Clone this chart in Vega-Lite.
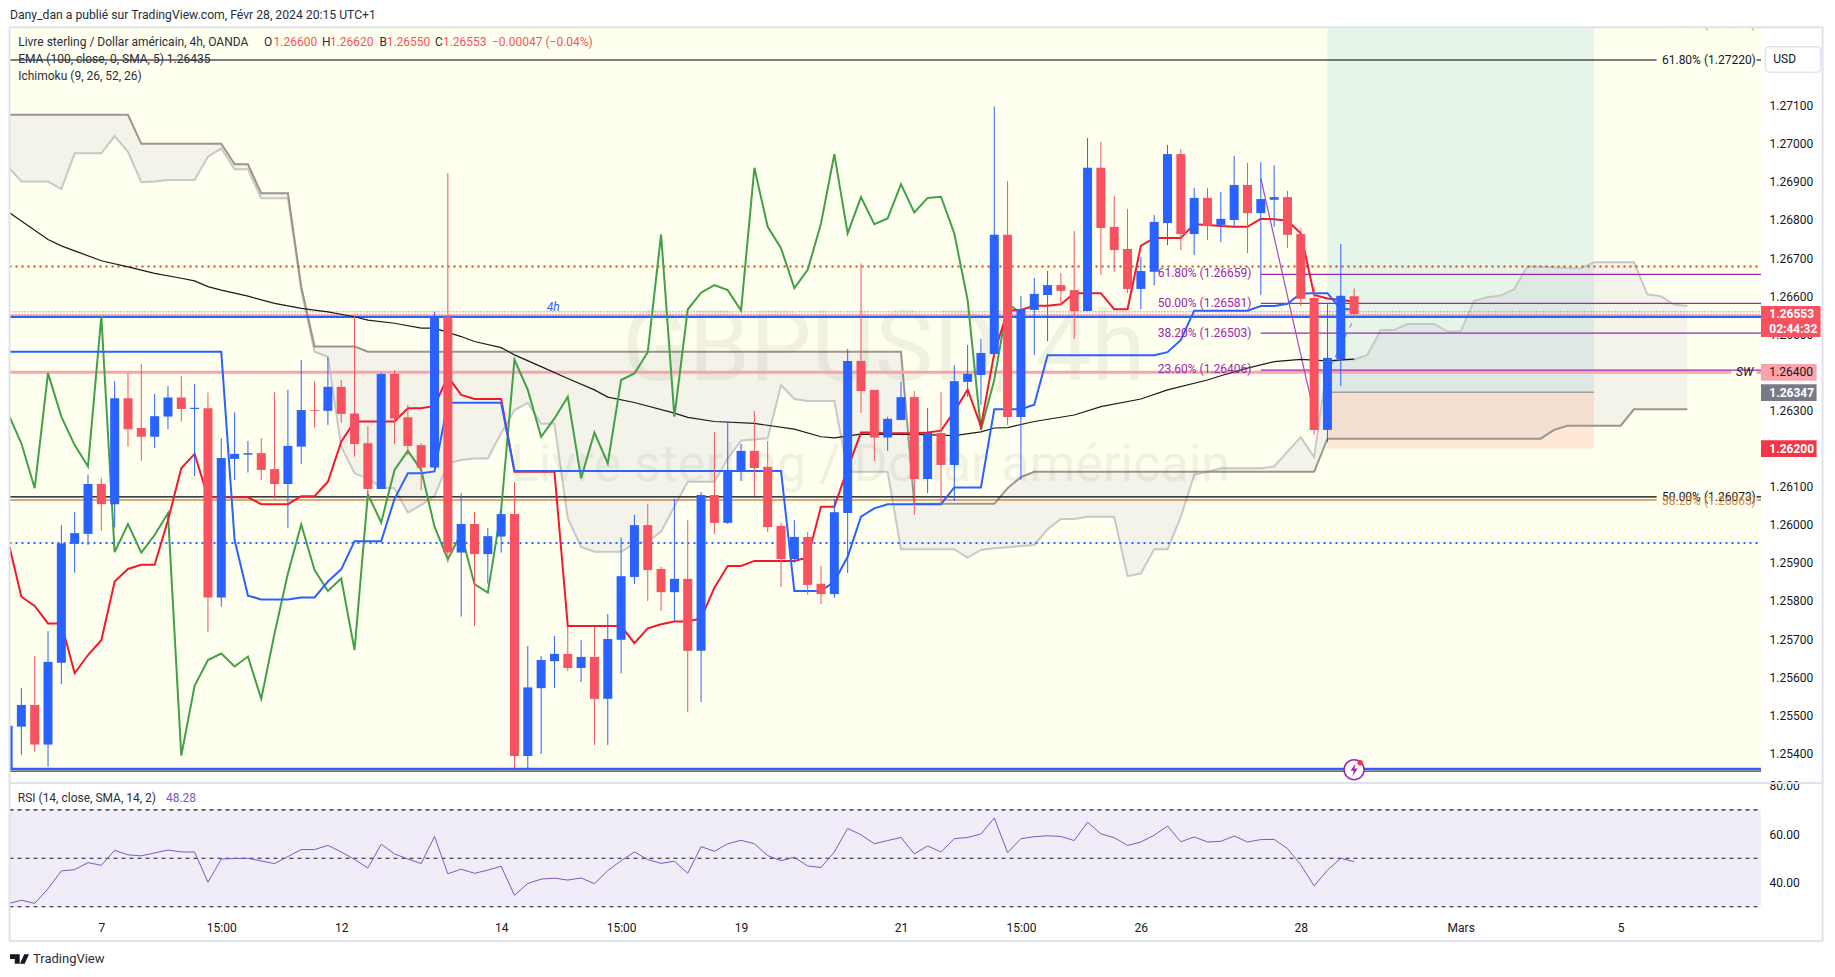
{
  "$schema": "https://vega.github.io/schema/vega-lite/v6.json",
  "width": 1835,
  "height": 977,
  "autosize": {"type": "none"},
  "padding": 0,
  "background": "#ffffff",
  "view": {"stroke": null},
  "config": {"text": {"font": "Roboto"}, "axis": {"labelFont": "Roboto"}},
  "datasets": {
    "candles": [
      {"bar":0,"open":1.2547,"high":1.25571,"low":1.25396,"close":1.25527},
      {"bar":1,"open":1.25527,"high":1.25656,"low":1.25404,"close":1.25423},
      {"bar":2,"open":1.25423,"high":1.25721,"low":1.25365,"close":1.2564},
      {"bar":3,"open":1.25638,"high":1.25999,"low":1.25582,"close":1.25951},
      {"bar":4,"open":1.2595,"high":1.26033,"low":1.25874,"close":1.25978},
      {"bar":5,"open":1.25976,"high":1.26131,"low":1.25947,"close":1.26107},
      {"bar":6,"open":1.26107,"high":1.26123,"low":1.25984,"close":1.26054},
      {"bar":7,"open":1.26054,"high":1.26377,"low":1.25993,"close":1.26332},
      {"bar":8,"open":1.26332,"high":1.26398,"low":1.26205,"close":1.26251},
      {"bar":9,"open":1.26254,"high":1.26422,"low":1.26168,"close":1.26231},
      {"bar":10,"open":1.26231,"high":1.26343,"low":1.26202,"close":1.26285},
      {"bar":11,"open":1.26284,"high":1.26364,"low":1.26251,"close":1.26334},
      {"bar":12,"open":1.26334,"high":1.2639,"low":1.26271,"close":1.26304},
      {"bar":13,"open":1.26304,"high":1.2637,"low":1.26128,"close":1.26307},
      {"bar":14,"open":1.26306,"high":1.26347,"low":1.25719,"close":1.25809},
      {"bar":15,"open":1.25809,"high":1.26227,"low":1.25785,"close":1.26175},
      {"bar":16,"open":1.26173,"high":1.26295,"low":1.26117,"close":1.26186},
      {"bar":17,"open":1.26184,"high":1.2622,"low":1.26137,"close":1.26188},
      {"bar":18,"open":1.26188,"high":1.26227,"low":1.26117,"close":1.26144},
      {"bar":19,"open":1.26146,"high":1.26348,"low":1.26067,"close":1.26107},
      {"bar":20,"open":1.26107,"high":1.26354,"low":1.25992,"close":1.26207},
      {"bar":21,"open":1.26205,"high":1.26433,"low":1.2616,"close":1.26301},
      {"bar":22,"open":1.26301,"high":1.26377,"low":1.26255,"close":1.26299},
      {"bar":23,"open":1.26299,"high":1.2644,"low":1.26262,"close":1.26362},
      {"bar":24,"open":1.26362,"high":1.2638,"low":1.26268,"close":1.26291},
      {"bar":25,"open":1.26292,"high":1.26548,"low":1.26179,"close":1.26212},
      {"bar":26,"open":1.26214,"high":1.26259,"low":1.26069,"close":1.26094},
      {"bar":27,"open":1.26094,"high":1.26399,"low":1.26094,"close":1.26396},
      {"bar":28,"open":1.26396,"high":1.26406,"low":1.26212,"close":1.26279},
      {"bar":29,"open":1.26282,"high":1.26314,"low":1.26183,"close":1.26207},
      {"bar":30,"open":1.26209,"high":1.26214,"low":1.26091,"close":1.2615},
      {"bar":31,"open":1.2615,"high":1.26559,"low":1.26148,"close":1.26546},
      {"bar":32,"open":1.26546,"high":1.26923,"low":1.259,"close":1.25927},
      {"bar":33,"open":1.25927,"high":1.26082,"low":1.25759,"close":1.26002},
      {"bar":34,"open":1.26002,"high":1.26033,"low":1.25734,"close":1.25923},
      {"bar":35,"open":1.25923,"high":1.25991,"low":1.25846,"close":1.2597},
      {"bar":36,"open":1.25969,"high":1.26039,"low":1.25927,"close":1.26028},
      {"bar":37,"open":1.26028,"high":1.26112,"low":1.25361,"close":1.25393},
      {"bar":38,"open":1.25393,"high":1.25682,"low":1.25361,"close":1.25573},
      {"bar":39,"open":1.25571,"high":1.25656,"low":1.25398,"close":1.25645},
      {"bar":40,"open":1.25642,"high":1.25708,"low":1.25571,"close":1.25661},
      {"bar":41,"open":1.25661,"high":1.25733,"low":1.25616,"close":1.25624},
      {"bar":42,"open":1.25624,"high":1.25697,"low":1.25587,"close":1.25653},
      {"bar":43,"open":1.25653,"high":1.25733,"low":1.25422,"close":1.25543},
      {"bar":44,"open":1.25543,"high":1.25766,"low":1.25422,"close":1.257},
      {"bar":45,"open":1.25698,"high":1.25967,"low":1.2561,"close":1.25865},
      {"bar":46,"open":1.25863,"high":1.26026,"low":1.25844,"close":1.25999},
      {"bar":47,"open":1.25999,"high":1.26054,"low":1.258,"close":1.25881},
      {"bar":48,"open":1.25884,"high":1.2589,"low":1.25774,"close":1.25823},
      {"bar":49,"open":1.25823,"high":1.26068,"low":1.25747,"close":1.25858},
      {"bar":50,"open":1.25858,"high":1.26012,"low":1.25508,"close":1.25669},
      {"bar":51,"open":1.25669,"high":1.26086,"low":1.25535,"close":1.26078},
      {"bar":52,"open":1.26078,"high":1.26243,"low":1.25976,"close":1.26005},
      {"bar":53,"open":1.26005,"high":1.26271,"low":1.26002,"close":1.26144},
      {"bar":54,"open":1.26139,"high":1.26212,"low":1.26115,"close":1.26194},
      {"bar":55,"open":1.26194,"high":1.26299,"low":1.26076,"close":1.26149},
      {"bar":56,"open":1.26152,"high":1.2622,"low":1.25981,"close":1.25994},
      {"bar":57,"open":1.25997,"high":1.26005,"low":1.25837,"close":1.2591},
      {"bar":58,"open":1.2591,"high":1.26012,"low":1.259,"close":1.25968},
      {"bar":59,"open":1.25968,"high":1.25981,"low":1.25816,"close":1.25842},
      {"bar":60,"open":1.25845,"high":1.25892,"low":1.25792,"close":1.25818},
      {"bar":61,"open":1.25818,"high":1.26068,"low":1.25808,"close":1.26033},
      {"bar":62,"open":1.26031,"high":1.26461,"low":1.25873,"close":1.2643},
      {"bar":63,"open":1.2643,"high":1.26686,"low":1.26294,"close":1.26351},
      {"bar":64,"open":1.26354,"high":1.26354,"low":1.26167,"close":1.26229},
      {"bar":65,"open":1.26229,"high":1.26283,"low":1.26194,"close":1.26278},
      {"bar":66,"open":1.26275,"high":1.26375,"low":1.26275,"close":1.26335},
      {"bar":67,"open":1.26335,"high":1.26351,"low":1.26026,"close":1.2612},
      {"bar":68,"open":1.2612,"high":1.26307,"low":1.26083,"close":1.26241},
      {"bar":69,"open":1.26241,"high":1.26348,"low":1.26054,"close":1.26157},
      {"bar":70,"open":1.26157,"high":1.26419,"low":1.26062,"close":1.26377},
      {"bar":71,"open":1.26375,"high":1.26472,"low":1.26336,"close":1.26396},
      {"bar":72,"open":1.26393,"high":1.26488,"low":1.26314,"close":1.26451},
      {"bar":73,"open":1.26448,"high":1.27098,"low":1.26448,"close":1.26761},
      {"bar":74,"open":1.26761,"high":1.26902,"low":1.26262,"close":1.26283},
      {"bar":75,"open":1.26283,"high":1.266,"low":1.26118,"close":1.26566},
      {"bar":76,"open":1.26564,"high":1.26648,"low":1.26446,"close":1.26606},
      {"bar":77,"open":1.26603,"high":1.26666,"low":1.26482,"close":1.26629},
      {"bar":78,"open":1.26629,"high":1.26661,"low":1.26577,"close":1.26614},
      {"bar":79,"open":1.26616,"high":1.26771,"low":1.26488,"close":1.26561},
      {"bar":80,"open":1.26561,"high":1.27015,"low":1.26561,"close":1.26937},
      {"bar":81,"open":1.26937,"high":1.27005,"low":1.26656,"close":1.26779},
      {"bar":82,"open":1.26782,"high":1.26863,"low":1.26664,"close":1.26721},
      {"bar":83,"open":1.26724,"high":1.26829,"low":1.26608,"close":1.26619},
      {"bar":84,"open":1.26619,"high":1.26703,"low":1.26566,"close":1.26666},
      {"bar":85,"open":1.26664,"high":1.26813,"low":1.26629,"close":1.26795},
      {"bar":86,"open":1.26792,"high":1.26997,"low":1.26734,"close":1.26973},
      {"bar":87,"open":1.26973,"high":1.26986,"low":1.26721,"close":1.26763},
      {"bar":88,"open":1.26763,"high":1.26884,"low":1.26708,"close":1.26858},
      {"bar":89,"open":1.26858,"high":1.26884,"low":1.26747,"close":1.26784},
      {"bar":90,"open":1.26787,"high":1.26874,"low":1.26742,"close":1.26803},
      {"bar":91,"open":1.268,"high":1.26968,"low":1.26779,"close":1.26892},
      {"bar":92,"open":1.26892,"high":1.2695,"low":1.26713,"close":1.26818},
      {"bar":93,"open":1.26818,"high":1.26952,"low":1.26603,"close":1.26855},
      {"bar":94,"open":1.26853,"high":1.26944,"low":1.26782,"close":1.2686},
      {"bar":95,"open":1.2686,"high":1.26876,"low":1.26727,"close":1.26761},
      {"bar":96,"open":1.26763,"high":1.26778,"low":1.26574,"close":1.26593},
      {"bar":97,"open":1.26595,"high":1.26624,"low":1.26236,"close":1.26249},
      {"bar":98,"open":1.26249,"high":1.26579,"low":1.26217,"close":1.26438},
      {"bar":99,"open":1.26435,"high":1.26737,"low":1.26364,"close":1.26601},
      {"bar":100,"open":1.266,"high":1.2662,"low":1.2655,"close":1.26553}
    ],
    "cloud": [
      {"bar":-0.89,"a":1.26936,"b":1.27076},{"bar":0,"a":1.26901,"b":1.27076},{"bar":2,"a":1.26901,"b":1.27076},{"bar":3,"a":1.26881,"b":1.27076},{"bar":4,"a":1.26975,"b":1.27076},{"bar":6,"a":1.26975,"b":1.27076},{"bar":7,"a":1.2702,"b":1.27076},{"bar":8,"a":1.26979,"b":1.27076},{"bar":9,"a":1.26899,"b":1.27},{"bar":10,"a":1.26901,"b":1.27},{"bar":11,"a":1.26905,"b":1.27},{"bar":13,"a":1.26905,"b":1.27},{"bar":14,"a":1.26966,"b":1.27},{"bar":15,"a":1.26988,"b":1.27},{"bar":16,"a":1.26933,"b":1.26946},{"bar":17,"a":1.26933,"b":1.26946},{"bar":18,"a":1.26857,"b":1.2687},{"bar":20,"a":1.26857,"b":1.2687},{"bar":21,"a":1.26616,"b":1.26625},{"bar":22,"a":1.26454,"b":1.26468},{"bar":23,"a":1.26441,"b":1.26468},{"bar":24,"a":1.26205,"b":1.26468},{"bar":25,"a":1.26135,"b":1.26468},{"bar":26,"a":1.26122,"b":1.26454},{"bar":27,"a":1.26098,"b":1.26454},{"bar":28,"a":1.26096,"b":1.26454},{"bar":29,"a":1.26032,"b":1.26454},{"bar":30,"a":1.26052,"b":1.26454},{"bar":31,"a":1.26075,"b":1.26454},{"bar":32,"a":1.26161,"b":1.26454},{"bar":33,"a":1.2617,"b":1.26454},{"bar":34,"a":1.26174,"b":1.26454},{"bar":35,"a":1.26174,"b":1.26454},{"bar":36,"a":1.2624,"b":1.26454},{"bar":37,"a":1.26301,"b":1.26454},{"bar":38,"a":1.2632,"b":1.26454},{"bar":39,"a":1.26265,"b":1.26454},{"bar":40,"a":1.26265,"b":1.26454},{"bar":41,"a":1.26017,"b":1.26454},{"bar":42,"a":1.25942,"b":1.26454},{"bar":43,"a":1.25929,"b":1.26454},{"bar":45,"a":1.25929,"b":1.26454},{"bar":46,"a":1.25951,"b":1.26454},{"bar":47,"a":1.25956,"b":1.26454},{"bar":48,"a":1.25982,"b":1.26454},{"bar":49,"a":1.26048,"b":1.26454},{"bar":50,"a":1.26113,"b":1.26454},{"bar":52,"a":1.26113,"b":1.26454},{"bar":53,"a":1.26174,"b":1.26454},{"bar":54,"a":1.26221,"b":1.26454},{"bar":55,"a":1.26224,"b":1.26454},{"bar":56,"a":1.26227,"b":1.26454},{"bar":57,"a":1.26367,"b":1.26454},{"bar":58,"a":1.2633,"b":1.26454},{"bar":59,"a":1.26325,"b":1.26454},{"bar":61,"a":1.26325,"b":1.26454},{"bar":62,"a":1.26139,"b":1.26454},{"bar":65,"a":1.26139,"b":1.26454},{"bar":66,"a":1.25936,"b":1.26454},{"bar":67,"a":1.25936,"b":1.26055},{"bar":70,"a":1.25936,"b":1.26055},{"bar":71,"a":1.25914,"b":1.26055},{"bar":72,"a":1.25934,"b":1.26055},{"bar":73,"a":1.25938,"b":1.26055},{"bar":74,"a":1.25941,"b":1.26096},{"bar":75,"a":1.25944,"b":1.26125},{"bar":76,"a":1.25947,"b":1.26139},{"bar":77,"a":1.25988,"b":1.26139},{"bar":78,"a":1.26015,"b":1.26139},{"bar":79,"a":1.26015,"b":1.26139},{"bar":80,"a":1.26021,"b":1.26139},{"bar":82,"a":1.26021,"b":1.26139},{"bar":83,"a":1.25865,"b":1.26139},{"bar":84,"a":1.25872,"b":1.26139},{"bar":85,"a":1.25936,"b":1.26139},{"bar":86,"a":1.25936,"b":1.26139},{"bar":87,"a":1.26021,"b":1.26139},{"bar":88,"a":1.26131,"b":1.26139},{"bar":89,"a":1.26139,"b":1.26139},{"bar":90,"a":1.26148,"b":1.26139},{"bar":93,"a":1.26148,"b":1.26139},{"bar":94,"a":1.26153,"b":1.26139},{"bar":95,"a":1.26192,"b":1.26139},{"bar":96,"a":1.2623,"b":1.26139},{"bar":97,"a":1.26177,"b":1.26139},{"bar":98,"a":1.26424,"b":1.26226},{"bar":99,"a":1.26434,"b":1.26226},{"bar":100,"a":1.26434,"b":1.26226},{"bar":101,"a":1.26446,"b":1.26226},{"bar":102,"a":1.26511,"b":1.26226},{"bar":103,"a":1.26511,"b":1.26226},{"bar":104,"a":1.26527,"b":1.26226},{"bar":106,"a":1.26527,"b":1.26226},{"bar":107,"a":1.26507,"b":1.26226},{"bar":108,"a":1.26507,"b":1.26226},{"bar":109,"a":1.26588,"b":1.26226},{"bar":110,"a":1.26597,"b":1.26226},{"bar":111,"a":1.26602,"b":1.26226},{"bar":112,"a":1.26618,"b":1.26226},{"bar":113,"a":1.26678,"b":1.26226},{"bar":114,"a":1.26677,"b":1.26226},{"bar":115,"a":1.26676,"b":1.26249},{"bar":116,"a":1.26674,"b":1.2626},{"bar":117,"a":1.26673,"b":1.2626},{"bar":118,"a":1.26689,"b":1.2626},{"bar":120,"a":1.26689,"b":1.2626},{"bar":121,"a":1.26689,"b":1.26303},{"bar":122,"a":1.26605,"b":1.26303},{"bar":123,"a":1.266,"b":1.26303},{"bar":124,"a":1.26578,"b":1.26303},{"bar":125,"a":1.26574,"b":1.26303}
    ],
    "ema": [
      {"bar":-0.89,"p":1.26819},{"bar":2,"p":1.26749},{"bar":3,"p":1.26732},{"bar":4,"p":1.26719},{"bar":6,"p":1.26693},{"bar":8,"p":1.26677},{"bar":10,"p":1.2666},{"bar":12,"p":1.26647},{"bar":13,"p":1.2664},{"bar":14,"p":1.26625},{"bar":15,"p":1.26616},{"bar":17,"p":1.266},{"bar":19,"p":1.26581},{"bar":21,"p":1.26568},{"bar":23,"p":1.26559},{"bar":25,"p":1.26546},{"bar":26,"p":1.26537},{"bar":28,"p":1.26529},{"bar":30,"p":1.26516},{"bar":31,"p":1.26516},{"bar":33,"p":1.26494},{"bar":34,"p":1.26481},{"bar":36,"p":1.26465},{"bar":37,"p":1.26446},{"bar":39,"p":1.26415},{"bar":41,"p":1.26384},{"bar":43,"p":1.26354},{"bar":44,"p":1.26335},{"bar":46,"p":1.26321},{"bar":49,"p":1.26293},{"bar":50,"p":1.26282},{"bar":52,"p":1.26271},{"bar":55,"p":1.26266},{"bar":58,"p":1.26251},{"bar":60,"p":1.26231},{"bar":61,"p":1.26228},{"bar":63,"p":1.26238},{"bar":67,"p":1.26237},{"bar":70,"p":1.26234},{"bar":72,"p":1.26244},{"bar":73,"p":1.26254},{"bar":74,"p":1.26255},{"bar":76,"p":1.26271},{"bar":79,"p":1.26288},{"bar":81,"p":1.2631},{"bar":84,"p":1.2633},{"bar":86,"p":1.26354},{"bar":89,"p":1.2638},{"bar":90,"p":1.26391},{"bar":92,"p":1.26411},{"bar":94,"p":1.26428},{"bar":96,"p":1.26434},{"bar":98,"p":1.2643},{"bar":100,"p":1.26435}
    ],
    "tenkan": [
      {"bar":-0.89,"p":1.25942},{"bar":0,"p":1.25811},{"bar":1,"p":1.25787},{"bar":2,"p":1.25741},{"bar":3,"p":1.25741},{"bar":4,"p":1.2561},{"bar":5,"p":1.25658},{"bar":6,"p":1.25697},{"bar":7,"p":1.25851},{"bar":8,"p":1.25884},{"bar":9,"p":1.25895},{"bar":10,"p":1.25895},{"bar":11,"p":1.26012},{"bar":12,"p":1.26148},{"bar":13,"p":1.26186},{"bar":14,"p":1.26072},{"bar":17,"p":1.26072},{"bar":18,"p":1.26054},{"bar":20,"p":1.26054},{"bar":21,"p":1.26075},{"bar":22,"p":1.26075},{"bar":23,"p":1.26113},{"bar":24,"p":1.26218},{"bar":25,"p":1.26271},{"bar":28,"p":1.26271},{"bar":29,"p":1.26306},{"bar":30,"p":1.26306},{"bar":31,"p":1.26312},{"bar":32,"p":1.26389},{"bar":33,"p":1.26341},{"bar":34,"p":1.2633},{"bar":36,"p":1.2633},{"bar":37,"p":1.26139},{"bar":40,"p":1.26139},{"bar":41,"p":1.25734},{"bar":45,"p":1.25734},{"bar":46,"p":1.25689},{"bar":47,"p":1.25728},{"bar":48,"p":1.25739},{"bar":49,"p":1.25746},{"bar":50,"p":1.25746},{"bar":51,"p":1.25754},{"bar":52,"p":1.25835},{"bar":53,"p":1.25892},{"bar":54,"p":1.25892},{"bar":55,"p":1.25905},{"bar":58,"p":1.25905},{"bar":59,"p":1.25914},{"bar":60,"p":1.26047},{"bar":61,"p":1.26047},{"bar":62,"p":1.26148},{"bar":63,"p":1.26242},{"bar":64,"p":1.26242},{"bar":65,"p":1.2624},{"bar":67,"p":1.2624},{"bar":68,"p":1.26242},{"bar":69,"p":1.26247},{"bar":70,"p":1.26297},{"bar":71,"p":1.26355},{"bar":72,"p":1.26258},{"bar":73,"p":1.2645},{"bar":74,"p":1.26562},{"bar":75,"p":1.26564},{"bar":76,"p":1.26575},{"bar":77,"p":1.26575},{"bar":78,"p":1.26579},{"bar":79,"p":1.26608},{"bar":81,"p":1.26608},{"bar":82,"p":1.26566},{"bar":83,"p":1.26566},{"bar":84,"p":1.26732},{"bar":85,"p":1.26753},{"bar":87,"p":1.26753},{"bar":88,"p":1.26789},{"bar":89,"p":1.26787},{"bar":90,"p":1.26784},{"bar":91,"p":1.26782},{"bar":92,"p":1.26782},{"bar":93,"p":1.26803},{"bar":94,"p":1.26802},{"bar":95,"p":1.26798},{"bar":96,"p":1.26765},{"bar":97,"p":1.26603},{"bar":98,"p":1.26594},{"bar":99,"p":1.2659},{"bar":100,"p":1.26586}
    ],
    "kijun": [
      {"bar":-0.89,"p":1.26454},{"bar":15,"p":1.26454},{"bar":16,"p":1.2596},{"bar":17,"p":1.25814},{"bar":18,"p":1.25804},{"bar":20,"p":1.25804},{"bar":21,"p":1.25809},{"bar":22,"p":1.25809},{"bar":23,"p":1.25851},{"bar":24,"p":1.25883},{"bar":25,"p":1.25957},{"bar":27,"p":1.25957},{"bar":28,"p":1.26068},{"bar":29,"p":1.26135},{"bar":30,"p":1.26135},{"bar":31,"p":1.2614},{"bar":32,"p":1.2632},{"bar":36,"p":1.2632},{"bar":37,"p":1.26141},{"bar":57,"p":1.26141},{"bar":58,"p":1.25826},{"bar":60,"p":1.25826},{"bar":61,"p":1.25851},{"bar":62,"p":1.25916},{"bar":63,"p":1.26021},{"bar":64,"p":1.26043},{"bar":65,"p":1.26054},{"bar":69,"p":1.26054},{"bar":70,"p":1.26098},{"bar":72,"p":1.26098},{"bar":73,"p":1.26303},{"bar":75,"p":1.26303},{"bar":76,"p":1.26315},{"bar":77,"p":1.26445},{"bar":85,"p":1.26445},{"bar":86,"p":1.26453},{"bar":87,"p":1.26485},{"bar":88,"p":1.26562},{"bar":92,"p":1.26562},{"bar":93,"p":1.26574},{"bar":94,"p":1.26574},{"bar":95,"p":1.2658},{"bar":96,"p":1.26607},{"bar":97,"p":1.26608},{"bar":98,"p":1.26608},{"bar":99,"p":1.26566},{"bar":100,"p":1.26566}
    ],
    "chikou": [
      {"bar":-0.89,"p":1.26284},{"bar":0,"p":1.26214},{"bar":1,"p":1.26096},{"bar":2,"p":1.26398},{"bar":3,"p":1.26284},{"bar":4,"p":1.26209},{"bar":5,"p":1.26153},{"bar":6,"p":1.26548},{"bar":7,"p":1.25928},{"bar":8,"p":1.26002},{"bar":9,"p":1.25927},{"bar":10,"p":1.25973},{"bar":11,"p":1.2603},{"bar":12,"p":1.25394},{"bar":13,"p":1.25577},{"bar":14,"p":1.25645},{"bar":15,"p":1.25662},{"bar":16,"p":1.25628},{"bar":17,"p":1.25654},{"bar":18,"p":1.25543},{"bar":19,"p":1.25715},{"bar":20,"p":1.25872},{"bar":21,"p":1.26001},{"bar":22,"p":1.25881},{"bar":23,"p":1.25826},{"bar":24,"p":1.25859},{"bar":25,"p":1.25671},{"bar":26,"p":1.2608},{"bar":27,"p":1.26006},{"bar":28,"p":1.26144},{"bar":29,"p":1.26194},{"bar":30,"p":1.26144},{"bar":31,"p":1.25995},{"bar":32,"p":1.25909},{"bar":33,"p":1.25977},{"bar":34,"p":1.25844},{"bar":35,"p":1.25822},{"bar":36,"p":1.26039},{"bar":37,"p":1.26433},{"bar":38,"p":1.26354},{"bar":39,"p":1.26231},{"bar":40,"p":1.26279},{"bar":41,"p":1.26336},{"bar":42,"p":1.26122},{"bar":43,"p":1.26242},{"bar":44,"p":1.26161},{"bar":45,"p":1.2638},{"bar":46,"p":1.26397},{"bar":47,"p":1.26453},{"bar":48,"p":1.26762},{"bar":49,"p":1.26284},{"bar":50,"p":1.26565},{"bar":51,"p":1.26609},{"bar":52,"p":1.26629},{"bar":53,"p":1.26616},{"bar":54,"p":1.26562},{"bar":55,"p":1.26937},{"bar":56,"p":1.26782},{"bar":57,"p":1.26726},{"bar":58,"p":1.26621},{"bar":59,"p":1.26669},{"bar":60,"p":1.26791},{"bar":61,"p":1.26973},{"bar":62,"p":1.26765},{"bar":63,"p":1.2686},{"bar":64,"p":1.26789},{"bar":65,"p":1.26804},{"bar":66,"p":1.26894},{"bar":67,"p":1.2682},{"bar":68,"p":1.26858},{"bar":69,"p":1.26861},{"bar":70,"p":1.26765},{"bar":71,"p":1.2659},{"bar":72,"p":1.26249},{"bar":73,"p":1.2638},{"bar":74,"p":1.26581},{"bar":75,"p":1.26555}
    ],
    "rsi": [
      {"bar":-0.89,"v":31.4},{"bar":0,"v":32.7},{"bar":1,"v":31.4},{"bar":2,"v":37.4},{"bar":3,"v":44.8},{"bar":4,"v":45.3},{"bar":5,"v":48.2},{"bar":6,"v":47.1},{"bar":7,"v":53.3},{"bar":8,"v":51.4},{"bar":9,"v":51},{"bar":10,"v":52.2},{"bar":11,"v":53.4},{"bar":12,"v":52.6},{"bar":13,"v":52.6},{"bar":14,"v":40.1},{"bar":15,"v":49.7},{"bar":16,"v":49.9},{"bar":17,"v":50},{"bar":18,"v":48.9},{"bar":19,"v":47.8},{"bar":20,"v":50.7},{"bar":21,"v":53.6},{"bar":22,"v":53.6},{"bar":23,"v":55.3},{"bar":24,"v":52.6},{"bar":25,"v":49.5},{"bar":26,"v":46},{"bar":27,"v":55.8},{"bar":28,"v":51.8},{"bar":29,"v":49.7},{"bar":30,"v":47.8},{"bar":31,"v":59},{"bar":32,"v":43.6},{"bar":33,"v":45.5},{"bar":34,"v":43.8},{"bar":35,"v":45.1},{"bar":36,"v":46.7},{"bar":37,"v":34.7},{"bar":38,"v":39.6},{"bar":39,"v":41.4},{"bar":40,"v":41.8},{"bar":41,"v":41},{"bar":42,"v":41.9},{"bar":43,"v":39.5},{"bar":44,"v":44.9},{"bar":45,"v":49},{"bar":46,"v":52.6},{"bar":47,"v":49.5},{"bar":48,"v":47.9},{"bar":49,"v":48.8},{"bar":50,"v":43.8},{"bar":51,"v":54.8},{"bar":52,"v":52.9},{"bar":53,"v":56},{"bar":54,"v":57.4},{"bar":55,"v":56},{"bar":56,"v":51.1},{"bar":57,"v":49},{"bar":58,"v":50.4},{"bar":59,"v":46.8},{"bar":60,"v":46.2},{"bar":61,"v":52.6},{"bar":62,"v":62.3},{"bar":63,"v":59.7},{"bar":64,"v":56},{"bar":65,"v":57.3},{"bar":66,"v":58.6},{"bar":67,"v":51.8},{"bar":68,"v":55.1},{"bar":69,"v":52.6},{"bar":70,"v":58.1},{"bar":71,"v":58.6},{"bar":72,"v":60},{"bar":73,"v":66.6},{"bar":74,"v":52.3},{"bar":75,"v":58.1},{"bar":76,"v":58.9},{"bar":77,"v":59.3},{"bar":78,"v":59},{"bar":79,"v":57.3},{"bar":80,"v":64.9},{"bar":81,"v":60.1},{"bar":82,"v":58.5},{"bar":83,"v":55.3},{"bar":84,"v":56.7},{"bar":85,"v":59.5},{"bar":86,"v":63.3},{"bar":87,"v":56.8},{"bar":88,"v":58.8},{"bar":89,"v":56.7},{"bar":90,"v":57},{"bar":91,"v":59.2},{"bar":92,"v":56.7},{"bar":93,"v":57.7},{"bar":94,"v":57.8},{"bar":95,"v":54},{"bar":96,"v":47.3},{"bar":97,"v":38.6},{"bar":98,"v":45.1},{"bar":99,"v":50},{"bar":100,"v":48.6}
    ]
  },
  "encoding": {
    "x": {
      "field": "bar",
      "type": "quantitative",
      "scale": {"domain": [-0.89, 130.53], "range": [9.5, 1761], "zero": false, "nice": false, "padding": 0},
      "axis": {
        "title": null,
        "orient": "bottom",
        "offset": -62,
        "domain": false,
        "ticks": false,
        "grid": false,
        "values": [6, 15, 24, 36, 45, 54, 66, 75, 84, 96, 108, 120],
        "labelExpr": "{'6':'7','15':'15:00','24':'12','36':'14','45':'15:00','54':'19','66':'21','75':'15:00','84':'26','96':'28','108':'Mars','120':'5'}[datum.value]",
        "labelFontSize": 12,
        "labelColor": "#131722",
        "labelPadding": 7,
        "labelOverlap": false,
        "labelFlush": false
      }
    }
  },
  "resolve": {"scale": {"y": "independent"}, "axis": {"y": "independent"}},
  "layer": [
    {
      "encoding": {
        "y": {
          "field": "p",
          "type": "quantitative",
          "scale": {"domain": [1.253247, 1.273066], "range": [782, 27], "zero": false, "nice": false},
          "axis": {
            "title": null,
            "orient": "right",
            "offset": -74,
            "domain": false,
            "ticks": false,
            "grid": false,
            "values": [1.254, 1.255, 1.256, 1.257, 1.258, 1.259, 1.26, 1.261, 1.262, 1.263, 1.264, 1.265, 1.266, 1.267, 1.268, 1.269, 1.27, 1.271, 1.272],
            "format": ".5f",
            "labelFontSize": 12,
            "labelColor": "#131722",
            "labelPadding": 8,
            "labelOverlap": false,
            "labelFlush": false
          }
        }
      },
      "layer": [
        {
          "data": {"values": [{"bar": -0.89, "bar2": 130.53, "p": 1.25353, "p2": 1.273066}]},
          "mark": {"type": "rect", "color": "#fffff0"},
          "encoding": {"x2": {"field": "bar2"}, "y2": {"field": "p2"}}
        },
        {
          "data": {"values": [{"bar": 98, "bar2": 118, "p": 1.26348, "p2": 1.273066}]},
          "mark": {"type": "rect", "color": "#089fa8", "opacity": 0.1},
          "encoding": {"x2": {"field": "bar2"}, "y2": {"field": "p2"}}
        },
        {
          "data": {"values": [{"bar": 98, "bar2": 118, "p": 1.262, "p2": 1.26348}]},
          "mark": {"type": "rect", "color": "#ff5722", "opacity": 0.13},
          "encoding": {"x2": {"field": "bar2"}, "y2": {"field": "p2"}}
        },
        {
          "data": {"name": "cloud"},
          "mark": {"type": "area", "color": "#7d70a0", "opacity": 0.085},
          "encoding": {
            "y": {"field": "a", "type": "quantitative", "scale": {"domain": [1.253247, 1.273066], "range": [782, 27], "zero": false, "nice": false}},
            "y2": {"field": "b"}
          }
        },
        {
          "data": {"name": "cloud"},
          "mark": {"type": "line", "color": "#c8c8c8", "strokeWidth": 2},
          "encoding": {
            "y": {"field": "a", "type": "quantitative", "scale": {"domain": [1.253247, 1.273066], "range": [782, 27], "zero": false, "nice": false}}
          }
        },
        {
          "data": {"name": "cloud"},
          "mark": {"type": "line", "color": "#9a968e", "strokeWidth": 2},
          "encoding": {
            "y": {"field": "b", "type": "quantitative", "scale": {"domain": [1.253247, 1.273066], "range": [782, 27], "zero": false, "nice": false}}
          }
        },
        {
          "data": {"values": [{"bar": 64.7, "p": 1.26456, "label": "GBPUSD, 4h"}]},
          "mark": {"type": "text", "fontSize": 98, "color": "#6b6b50", "opacity": 0.09, "baseline": "middle"},
          "encoding": {"text": {"field": "label"}}
        },
        {
          "data": {"values": [{"bar": 63.7, "p": 1.26156, "label": "Livre sterling / Dollar américain"}]},
          "mark": {"type": "text", "fontSize": 52, "color": "#6b6b50", "opacity": 0.09, "baseline": "middle"},
          "encoding": {"text": {"field": "label"}}
        },
        {
          "data": {"values": [{"bar": -0.89, "bar2": 130.53, "p": 1.2722}]},
          "mark": {"type": "rule", "color": "#000000", "strokeWidth": 1.2},
          "encoding": {"x2": {"field": "bar2"}}
        },
        {
          "data": {"values": [{"bar": -0.89, "bar2": 130.53, "p": 1.26073}]},
          "mark": {"type": "rule", "color": "#000000", "strokeWidth": 1.2},
          "encoding": {"x2": {"field": "bar2"}}
        },
        {
          "data": {"values": [{"bar": -0.89, "bar2": 130.53, "p": 1.26065}]},
          "mark": {"type": "rule", "color": "#b45309", "strokeWidth": 1.2},
          "encoding": {"x2": {"field": "bar2"}}
        },
        {
          "data": {"values": [{"bar": -0.89, "bar2": 130.53, "p": 1.26678}]},
          "mark": {"type": "rule", "color": "#b45309", "strokeWidth": 2, "strokeDash": [2, 4]},
          "encoding": {"x2": {"field": "bar2"}}
        },
        {
          "data": {"values": [{"bar": -0.89, "bar2": 130.53, "p": 1.25952}]},
          "mark": {"type": "rule", "color": "#2962ff", "strokeWidth": 2, "strokeDash": [2, 4]},
          "encoding": {"x2": {"field": "bar2"}}
        },
        {
          "data": {"values": [{"bar": -0.89, "bar2": 130.53, "p": 1.26559}, {"bar": -0.89, "bar2": 130.53, "p": 1.26552}]},
          "mark": {"type": "rule", "color": "#f23645", "strokeWidth": 1, "strokeDash": [1, 2]},
          "encoding": {"x2": {"field": "bar2"}}
        },
        {
          "data": {"values": [{"bar": -0.89, "bar2": 130.53, "p": 1.26546}]},
          "mark": {"type": "rule", "color": "#2962ff", "strokeWidth": 2.5},
          "encoding": {"x2": {"field": "bar2"}}
        },
        {
          "data": {"values": [{"bar": -0.89, "bar2": 128.3, "p": 1.264}, {"bar": 130.2, "bar2": 130.53, "p": 1.264}]},
          "mark": {"type": "rule", "color": "#f9a3ab", "strokeWidth": 3},
          "encoding": {"x2": {"field": "bar2"}}
        },
        {
          "data": {"values": [{"bar": 98, "bar2": 118, "p": 1.26348}]},
          "mark": {"type": "rule", "color": "#787b86", "strokeWidth": 1},
          "encoding": {"x2": {"field": "bar2"}}
        },
        {
          "data": {"values": [{"bar": -0.89, "bar2": 130.53, "p": 1.25353}]},
          "mark": {"type": "rule", "color": "#b45309", "strokeWidth": 1.5},
          "encoding": {"x2": {"field": "bar2"}}
        },
        {
          "data": {"values": [{"bar": -0.89, "bar2": 130.53, "p": 1.25359}]},
          "mark": {"type": "rule", "color": "#2962ff", "strokeWidth": 2.5},
          "encoding": {"x2": {"field": "bar2"}}
        },
        {
          "data": {"values": [{"bar": -0.75, "p": 1.25472, "p2": 1.25359}]},
          "mark": {"type": "rule", "color": "#2962ff", "strokeWidth": 2.5},
          "encoding": {"y2": {"field": "p2"}}
        },
        {
          "data": {"values": [{"bar": 93, "bar2": 130.53, "p": 1.26657}, {"bar": 93, "bar2": 130.53, "p": 1.26581}, {"bar": 93, "bar2": 130.53, "p": 1.26503}, {"bar": 93, "bar2": 130.53, "p": 1.26406}]},
          "mark": {"type": "rule", "color": "#9c27b0", "strokeWidth": 1.2},
          "encoding": {"x2": {"field": "bar2"}}
        },
        {
          "data": {"values": [{"bar": 93, "p": 1.26909}, {"bar": 97, "p": 1.26292}]},
          "mark": {"type": "line", "color": "#ab47bc", "strokeWidth": 1.2},
          "encoding": {}
        },
        {
          "data": {"values": [{"bar": 98.2, "p": 1.26414}, {"bar": 100.1, "p": 1.26548}]},
          "mark": {"type": "line", "color": "#787b86", "strokeWidth": 1, "strokeDash": [5, 6]},
          "encoding": {}
        },
        {
          "data": {"name": "ema"},
          "mark": {"type": "line", "color": "#1a1a1a", "strokeWidth": 1.2},
          "encoding": {}
        },
        {
          "data": {"name": "chikou"},
          "mark": {"type": "line", "color": "#43a047", "strokeWidth": 2},
          "encoding": {}
        },
        {
          "data": {"name": "tenkan"},
          "mark": {"type": "line", "color": "#f2192b", "strokeWidth": 2},
          "encoding": {}
        },
        {
          "data": {"name": "kijun"},
          "mark": {"type": "line", "color": "#2962ff", "strokeWidth": 2},
          "encoding": {}
        },
        {
          "data": {"name": "candles"},
          "mark": {"type": "rule", "strokeWidth": 1},
          "encoding": {
            "y": {"field": "low", "type": "quantitative", "scale": {"domain": [1.253247, 1.273066], "range": [782, 27], "zero": false, "nice": false}},
            "y2": {"field": "high"},
            "color": {"condition": {"test": "datum.close >= datum.open", "value": "#2962ff"}, "value": "#f7525f"}
          }
        },
        {
          "data": {"name": "candles"},
          "mark": {"type": "bar", "width": 9},
          "encoding": {
            "y": {"field": "open", "type": "quantitative", "scale": {"domain": [1.253247, 1.273066], "range": [782, 27], "zero": false, "nice": false}},
            "y2": {"field": "close"},
            "color": {"condition": {"test": "datum.close >= datum.open", "value": "#2962ff"}, "value": "#f7525f"}
          }
        },
        {
          "data": {"values": [
            {"bar": -0.24, "p": 1.27268, "label": "Livre sterling / Dollar américain, 4h, OANDA"},
            {"bar": 18.2, "p": 1.27268, "label": "O"},
            {"bar": 22.55, "p": 1.27268, "label": "H"},
            {"bar": 26.88, "p": 1.27268, "label": "B"},
            {"bar": 31.03, "p": 1.27268, "label": "C"},
            {"bar": -0.24, "p": 1.272234, "label": "EMA (100, close, 0, SMA, 5)  1.26435"},
            {"bar": -0.24, "p": 1.27178, "label": "Ichimoku (9, 26, 52, 26)"}
          ]},
          "mark": {"type": "text", "align": "left", "baseline": "middle", "fontSize": 12, "color": "#2a2e39"},
          "encoding": {"text": {"field": "label"}}
        },
        {
          "data": {"values": [
            {"bar": 18.92, "p": 1.27268, "label": "1.26600"},
            {"bar": 23.15, "p": 1.27268, "label": "1.26620"},
            {"bar": 27.41, "p": 1.27268, "label": "1.26550"},
            {"bar": 31.63, "p": 1.27268, "label": "1.26553"},
            {"bar": 35.31, "p": 1.27268, "label": "−0.00047 (−0.04%)"}
          ]},
          "mark": {"type": "text", "align": "left", "baseline": "middle", "fontSize": 12, "color": "#f7525f"},
          "encoding": {"text": {"field": "label"}}
        },
        {
          "data": {"values": [{"bar": 39.9, "p": 1.26572, "label": "4h"}]},
          "mark": {"type": "text", "align": "center", "baseline": "middle", "fontSize": 12, "fontStyle": "italic", "color": "#2962ff"},
          "encoding": {"text": {"field": "label"}}
        },
        {
          "data": {"values": [{"bar": 129.3, "p": 1.264, "label": "SW"}]},
          "mark": {"type": "text", "align": "center", "baseline": "middle", "fontSize": 12, "fontStyle": "italic", "color": "#131722"},
          "encoding": {"text": {"field": "label"}}
        },
        {
          "data": {"values": [
            {"bar": 92.3, "p": 1.2666, "label": "61.80% (1.26659)"},
            {"bar": 92.3, "p": 1.26581, "label": "50.00% (1.26581)"},
            {"bar": 92.3, "p": 1.26503, "label": "38.20% (1.26503)"},
            {"bar": 92.3, "p": 1.26408, "label": "23.60% (1.26406)"}
          ]},
          "mark": {"type": "text", "align": "right", "baseline": "middle", "fontSize": 12, "color": "#9c27b0"},
          "encoding": {"text": {"field": "label"}}
        },
        {
          "data": {"values": [{"bar": 122.7, "bar2": 130.2, "p": 1.27205, "p2": 1.27235}, {"bar": 122.7, "bar2": 130.2, "p": 1.26055, "p2": 1.26085}]},
          "mark": {"type": "rect", "color": "#fffff0"},
          "encoding": {"x2": {"field": "bar2"}, "y2": {"field": "p2"}}
        },
        {
          "data": {"values": [{"bar": 123.1, "p": 1.2722, "label": "61.80% (1.27220)"}, {"bar": 123.1, "p": 1.26073, "label": "50.00% (1.26073)"}]},
          "mark": {"type": "text", "align": "left", "baseline": "middle", "fontSize": 12, "color": "#131722"},
          "encoding": {"text": {"field": "label"}}
        },
        {
          "data": {"values": [{"bar": 123.1, "p": 1.26063, "label": "38.20% (1.26065)"}, {"bar": 123.1, "p": 1.27314, "label": "61.80% (1.27424)"}]},
          "mark": {"type": "text", "align": "left", "baseline": "middle", "fontSize": 12, "color": "#d08a4e"},
          "encoding": {"text": {"field": "label"}}
        },
        {
          "data": {"values": [{"bar": 122.7, "bar2": 130.53, "p": 1.273085, "p2": 1.2736}]},
          "mark": {"type": "rect", "color": "#ffffff"},
          "encoding": {"x2": {"field": "bar2"}, "y2": {"field": "p2"}}
        },
        {
          "data": {"values": [{"bar": -0.86, "p": 1.27338, "label": "Dany_dan a publié sur TradingView.com, Févr 28, 2024 20:15 UTC+1"}]},
          "mark": {"type": "text", "align": "left", "baseline": "middle", "fontSize": 12.2, "color": "#2a2e39"},
          "encoding": {"text": {"field": "label"}}
        },
        {
          "data": {"values": [{"bar": 130.85, "bar2": 135, "p": 1.27188, "p2": 1.27255}]},
          "mark": {"type": "rect", "fill": "#ffffff", "stroke": "#e0e3eb", "strokeWidth": 1.5, "cornerRadius": 4},
          "encoding": {"x2": {"field": "bar2"}, "y2": {"field": "p2"}}
        },
        {
          "data": {"values": [{"bar": 131.45, "p": 1.27222, "label": "USD"}]},
          "mark": {"type": "text", "align": "left", "baseline": "middle", "fontSize": 12, "color": "#131722"},
          "encoding": {"text": {"field": "label"}}
        },
        {
          "data": {"values": [{"bar": 130.53, "bar2": 135, "p": 1.26493, "p2": 1.26574}]},
          "mark": {"type": "rect", "color": "#f7525f"},
          "encoding": {"x2": {"field": "bar2"}, "y2": {"field": "p2"}}
        },
        {
          "data": {"values": [{"bar": 130.53, "bar2": 134.7, "p": 1.26378, "p2": 1.26422}]},
          "mark": {"type": "rect", "color": "#f9a3ab"},
          "encoding": {"x2": {"field": "bar2"}, "y2": {"field": "p2"}}
        },
        {
          "data": {"values": [{"bar": 130.53, "bar2": 134.7, "p": 1.26325, "p2": 1.26369}]},
          "mark": {"type": "rect", "color": "#787b86"},
          "encoding": {"x2": {"field": "bar2"}, "y2": {"field": "p2"}}
        },
        {
          "data": {"values": [{"bar": 130.53, "bar2": 134.7, "p": 1.26178, "p2": 1.26222}]},
          "mark": {"type": "rect", "color": "#f23645"},
          "encoding": {"x2": {"field": "bar2"}, "y2": {"field": "p2"}}
        },
        {
          "data": {"values": [
            {"bar": 131.15, "p": 1.26552, "label": "1.26553"},
            {"bar": 131.15, "p": 1.26515, "label": "02:44:32"},
            {"bar": 131.15, "p": 1.26347, "label": "1.26347"},
            {"bar": 131.15, "p": 1.262, "label": "1.26200"}
          ]},
          "mark": {"type": "text", "align": "left", "baseline": "middle", "fontSize": 12, "fontWeight": "bold", "color": "#ffffff"},
          "encoding": {"text": {"field": "label"}}
        },
        {
          "data": {"values": [{"bar": 131.15, "p": 1.264, "label": "1.26400"}]},
          "mark": {"type": "text", "align": "left", "baseline": "middle", "fontSize": 12, "color": "#131722"},
          "encoding": {"text": {"field": "label"}}
        },
        {
          "data": {"values": [{"bar": 100, "p": 1.25357}]},
          "mark": {"type": "point", "filled": true, "fill": "#ffffff", "stroke": "#9c27b0", "strokeWidth": 1.5, "size": 400, "opacity": 1},
          "encoding": {}
        },
        {
          "data": {"values": [{"bar": 100, "p": 1.25357}]},
          "mark": {"type": "point", "filled": true, "color": "#9c27b0", "size": 169, "opacity": 1, "shape": "M0.25,-1 L-0.55,0.15 L-0.05,0.15 L-0.25,1 L0.55,-0.2 L0.05,-0.2 Z"},
          "encoding": {}
        },
        {
          "data": {"values": [{"bar": 100.45, "p": 1.25375}]},
          "mark": {"type": "point", "filled": true, "color": "#f23645", "size": 30, "opacity": 1},
          "encoding": {}
        }
      ]
    },
    {
      "encoding": {
        "y": {
          "field": "v",
          "type": "quantitative",
          "scale": {"domain": [26.6, 81.05], "range": [915, 783], "zero": false, "nice": false},
          "axis": {
            "title": null,
            "orient": "right",
            "offset": -74,
            "domain": false,
            "ticks": false,
            "grid": false,
            "values": [40, 60, 80],
            "format": ".2f",
            "labelFontSize": 12,
            "labelColor": "#131722",
            "labelPadding": 8,
            "labelOverlap": false,
            "labelFlush": false
          }
        }
      },
      "layer": [
        {
          "data": {"values": [{"bar": -0.89, "bar2": 130.53, "v": 30, "v2": 70}]},
          "mark": {"type": "rect", "color": "#f0edf8"},
          "encoding": {"x2": {"field": "bar2"}, "y2": {"field": "v2"}}
        },
        {
          "data": {"values": [{"bar": -0.89, "bar2": 130.53, "v": 70}, {"bar": -0.89, "bar2": 130.53, "v": 50}, {"bar": -0.89, "bar2": 130.53, "v": 30}]},
          "mark": {"type": "rule", "color": "#131722", "strokeWidth": 1.2, "strokeDash": [4, 4]},
          "encoding": {"x2": {"field": "bar2"}}
        },
        {
          "data": {"name": "rsi"},
          "mark": {"type": "line", "color": "#7e57c2", "strokeWidth": 1},
          "encoding": {}
        },
        {
          "data": {"values": [{"bar": -0.27, "v": 74.9, "label": "RSI (14, close, SMA, 14, 2)"}]},
          "mark": {"type": "text", "align": "left", "baseline": "middle", "fontSize": 12, "color": "#2a2e39"},
          "encoding": {"text": {"field": "label"}}
        },
        {
          "data": {"values": [{"bar": 10.85, "v": 74.9, "label": "48.28"}]},
          "mark": {"type": "text", "align": "left", "baseline": "middle", "fontSize": 12, "color": "#7e57c2"},
          "encoding": {"text": {"field": "label"}}
        },
        {
          "data": {"values": [
            {"bar": -0.89, "bar2": 135.15, "v": 81.05},
            {"bar": -0.89, "bar2": 135.15, "v": 15.9},
            {"bar": -0.89, "bar2": 135.15, "v": 392.8}
          ]},
          "mark": {"type": "rule", "color": "#e0e3eb", "strokeWidth": 2},
          "encoding": {"x2": {"field": "bar2"}}
        },
        {
          "data": {"values": [{"bar": -0.89, "v": 15.9, "v2": 392.8}, {"bar": 135.15, "v": 15.9, "v2": 392.8}]},
          "mark": {"type": "rule", "color": "#e0e3eb", "strokeWidth": 2},
          "encoding": {"y2": {"field": "v2"}}
        },
        {
          "data": {"values": [{"bar": 0.87, "v": 8.5, "label": "TradingView"}]},
          "mark": {"type": "text", "align": "left", "baseline": "middle", "fontSize": 13, "color": "#2a2e39"},
          "encoding": {"text": {"field": "label"}}
        },
        {
          "data": {"values": [{"bar": -0.14, "v": 8.5}]},
          "mark": {"type": "point", "filled": true, "color": "#131722", "size": 361, "opacity": 1, "shape": "M-1,-0.5 H0.02 V0.5 H-0.5 V0 H-1 Z M0.5,-0.5 H1 L0.55,0.5 H0.05 Z"},
          "encoding": {}
        }
      ]
    }
  ]
}
